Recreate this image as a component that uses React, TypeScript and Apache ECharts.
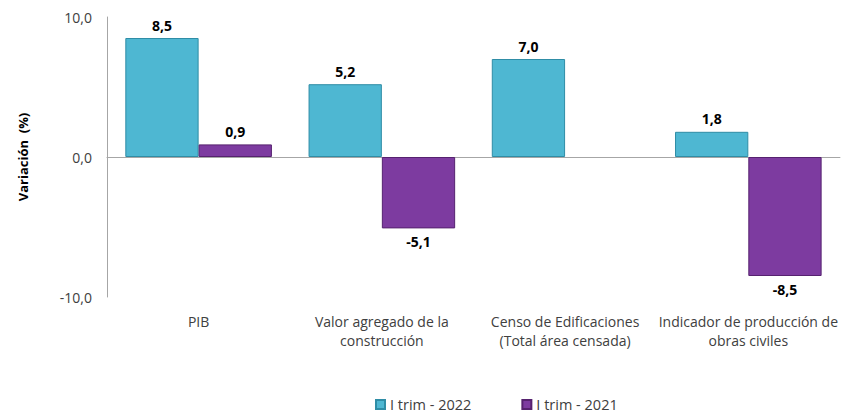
import React, { useEffect, useRef } from "react";
import * as echarts from "echarts";

const categories = [
  "PIB",
  "Valor agregado de la\nconstrucción",
  "Censo de Edificaciones\n(Total área censada)",
  "Indicador de producción de\nobras civiles",
];
const seriesNames = ["I trim - 2022", "I trim - 2021"];
const values2022 = [8.5, 5.2, 7.0, 1.8];
const values2021: (number | null)[] = [0.9, -5.1, null, -8.5];

const fmt = (v: number) => v.toFixed(1).replace(".", ",");

export default function App() {
  const ref = useRef<HTMLDivElement>(null);
  useEffect(() => {
    if (!ref.current) return;
    const chart = echarts.init(ref.current, null, { renderer: "svg" });
    const font = "'Open Sans', 'Noto Sans', sans-serif";
    const makeData = (arr: (number | null)[]) =>
      arr.map((v) =>
        v === null
          ? null
          : {
              value: v,
              label: { position: v >= 0 ? "top" : "bottom" },
            }
      );
    const labelCfg = {
      show: true,
      fontWeight: "bold",
      fontSize: 14,
      color: "#000",
      distance: 6,
      fontFamily: font,
      formatter: (p: any) => fmt(p.value),
    };
    chart.setOption({
      animation: false,
      textStyle: { fontFamily: font },
      grid: { left: 107, right: 1, top: 17, bottom: 116, containLabel: false },
      legend: {
        top: 392,
        left: 370,
        itemWidth: 9,
        itemHeight: 9,
        itemGap: 50,
        icon: "rect",
        textStyle: { fontSize: 14.5, color: "#404040", fontFamily: font },
        data: seriesNames,
      },
      xAxis: {
        type: "category",
        data: categories,
        axisLine: { onZero: true, lineStyle: { color: "#A6A6A6", width: 1 } },
        axisTick: { show: false },
        axisLabel: {
          color: "#404040",
          fontSize: 14,
          lineHeight: 19,
          interval: 0,
          margin: 15,
        },
        position: "bottom",
      },
      yAxis: {
        type: "value",
        min: -10,
        max: 10,
        interval: 10,
        name: "Variación  (%)",
        nameLocation: "middle",
        nameGap: 78,
        nameRotate: 90,
        nameTextStyle: { fontSize: 13, fontWeight: "bold", color: "#000", fontFamily: font },
        axisLine: { show: true, lineStyle: { color: "#A6A6A6", width: 1 } },
        axisTick: { show: false },
        splitLine: { show: false },
        axisLabel: {
          color: "#404040",
          fontSize: 14,
          margin: 15,
          formatter: (v: number) => fmt(v),
        },
      },
      series: [
        {
          name: seriesNames[0],
          type: "bar",
          data: makeData(values2022),
          barGap: "0%",
          barCategoryGap: "20%",
          itemStyle: { color: "#4EB7D2", borderColor: "#2F8DA6", borderWidth: 1 },
          label: labelCfg,
        },
        {
          name: seriesNames[1],
          type: "bar",
          data: makeData(values2021),
          barGap: "0%",
          barCategoryGap: "20%",
          itemStyle: { color: "#7D3BA0", borderColor: "#56226F", borderWidth: 1 },
          label: labelCfg,
        },
      ],
    });
    return () => chart.dispose();
  }, []);
  return <div ref={ref} style={{ width: 841, height: 413, position: "absolute", left: 0, top: 0 }} />;
}
